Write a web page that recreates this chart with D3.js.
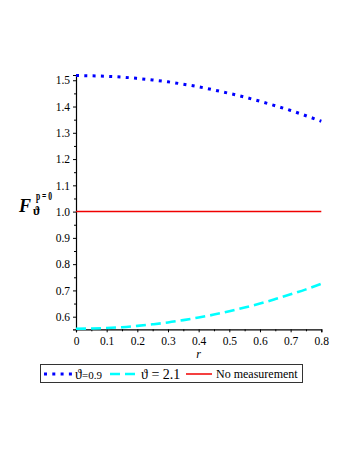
<!DOCTYPE html>
<html><head><meta charset="utf-8">
<script src="https://cdn.jsdelivr.net/npm/d3@7"></script>
<style>
body{margin:0;background:#fff;}
svg text{font-family:"Liberation Serif","Times New Roman",serif !important;}
</style></head>
<body>
<script>
const rValues = [0,0.05,0.1,0.15,0.2,0.25,0.3,0.35,0.4,0.45,0.5,0.55,0.6,0.65,0.7,0.75,0.8];
const seriesTheta09 = [1.518,1.517,1.515,1.512,1.507,1.501,1.494,1.485,1.475,1.463,1.450,1.436,1.420,1.403,1.385,1.365,1.344];
const seriesTheta21 = [0.554,0.555,0.557,0.560,0.565,0.571,0.578,0.587,0.597,0.608,0.621,0.635,0.650,0.667,0.685,0.704,0.725];
const seriesNoMeas = [1,1,1,1,1,1,1,1,1,1,1,1,1,1,1,1,1];
const xTicks = [0,0.1,0.2,0.3,0.4,0.5,0.6,0.7,0.8];
const xMinorTicks = [0.05,0.15,0.25,0.35,0.45,0.55,0.65,0.75];
const yTicks = [0.6,0.7,0.8,0.9,1.0,1.1,1.2,1.3,1.4,1.5];
const yMinorTicks = [0.65,0.75,0.85,0.95,1.05,1.15,1.25,1.35,1.45];

const W=354,H=458;
const svg=d3.select("body").append("svg").attr("width",W).attr("height",H);
const x=d3.scaleLinear().domain([0,0.8]).range([76,321.3]);
const y=d3.scaleLinear().domain([0.552,1.52]).range([329.3,75]);

const line=d3.line().x((d,i)=>x(rValues[i])).y(d=>y(d)).curve(d3.curveMonotoneX);

// x axis
svg.append("g").attr("transform",`translate(0,${y(0.552)})`)
 .call(d3.axisBottom(x).tickValues(xTicks).tickFormat(d=>d===0?"0":d3.format(".1f")(d)).tickSize(3).tickPadding(5));
const xMinor=svg.append("g").attr("transform",`translate(0,${y(0.552)})`)
 .call(d3.axisBottom(x).tickValues(xMinorTicks).tickFormat("").tickSize(2));
xMinor.select(".domain").remove();
// y axis
svg.append("g").attr("transform",`translate(${x(0)},0)`)
 .call(d3.axisLeft(y).tickValues(yTicks).tickFormat(d3.format(".1f")).tickSize(3).tickPadding(3));
const yMinor=svg.append("g").attr("transform",`translate(${x(0)},0)`)
 .call(d3.axisLeft(y).tickValues(yMinorTicks).tickFormat("").tickSize(2));
yMinor.select(".domain").remove();
svg.selectAll("g").attr("font-family",null);
svg.selectAll(".tick text").attr("font-size",11.5).style("font-family","'Liberation Serif', serif").attr("fill","#000");
svg.selectAll(".domain").attr("stroke","#000").attr("stroke-width",1.2);
svg.selectAll(".tick line").attr("stroke","#000");

// lines
svg.append("path").datum(seriesNoMeas).attr("d",line).attr("fill","none").attr("stroke","#f00000").attr("stroke-width",1.5);
svg.append("path").datum(seriesTheta21).attr("d",line).attr("fill","none").attr("stroke","#00ffff").attr("stroke-width",2.6).attr("stroke-dasharray","10,5");
svg.append("path").datum(seriesTheta09).attr("d",line).attr("fill","none").attr("stroke","#0000ff").attr("stroke-width",3).attr("stroke-dasharray","3,5.3");

// axis labels
svg.append("text").attr("x",x(0.4)).attr("y",358).attr("text-anchor","middle").attr("font-size",12).attr("font-style","italic").text("r");
const yl=svg.append("g");
yl.append("text").attr("x",19).attr("y",212).attr("font-size",18).attr("font-weight","bold").attr("font-style","italic").text("F");
yl.append("text").attr("x",36).attr("y",200).attr("font-size",12).attr("font-weight","bold")
  .attr("textLength",16).attr("lengthAdjust","spacingAndGlyphs").text("p = 0");
yl.append("text").attr("x",33).attr("y",215).attr("font-size",12).attr("font-weight","bold").text("ϑ");

// legend
const lg=svg.append("g");
lg.append("rect").attr("x",40.5).attr("y",364.5).attr("width",262).attr("height",18).attr("fill","#fff").attr("stroke","#333").attr("stroke-width",1);
const ly=374;
lg.append("line").attr("x1",44).attr("x2",72).attr("y1",ly).attr("y2",ly).attr("stroke","#0000ff").attr("stroke-width",3).attr("stroke-dasharray","3,5.3");
const t1=lg.append("text").attr("x",75).attr("y",ly+5).attr("font-size",14);
t1.append("tspan").text("ϑ");
t1.append("tspan").attr("font-size",11).text("=0.9");
lg.append("line").attr("x1",110).attr("x2",138).attr("y1",ly).attr("y2",ly).attr("stroke","#00ffff").attr("stroke-width",2.6).attr("stroke-dasharray","10,5");
lg.append("text").attr("x",141).attr("y",ly+5).attr("font-size",14).text("ϑ = 2.1");
lg.append("line").attr("x1",186).attr("x2",212).attr("y1",ly).attr("y2",ly).attr("stroke","#f00000").attr("stroke-width",1.5);
lg.append("text").attr("x",216).attr("y",ly+4).attr("font-size",12).text("No measurement");
</script>
</body></html>
